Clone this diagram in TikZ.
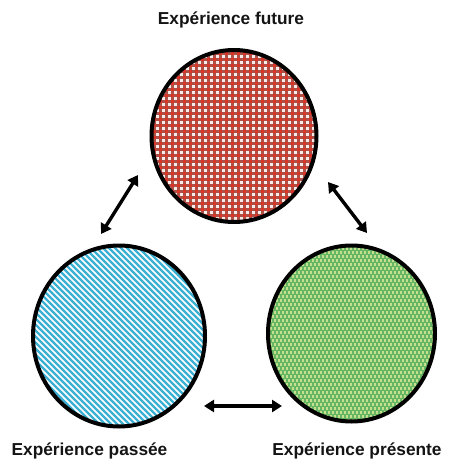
\documentclass[tikz,border=0pt]{standalone}
\usepackage{fontspec}
\setmainfont{Liberation Sans}
\usetikzlibrary{arrows.meta,shapes.geometric}
\definecolor{redbase}{RGB}{170,82,72}
\definecolor{reddot}{RGB}{222,52,40}
\definecolor{redwhite}{RGB}{250,235,232}
\definecolor{cyanc}{RGB}{60,176,210}
\definecolor{greenbase}{RGB}{100,182,100}
\definecolor{greendot}{RGB}{196,224,140}
\definecolor{txt}{RGB}{20,20,20}
\begin{document}
\begin{tikzpicture}[x=1pt,y=-1pt]
\useasboundingbox (0,0) rectangle (463,464);
\tikzset{
  circ/.style={ellipse, inner sep=0pt, postaction={draw=black, line width=4pt}},
  futur/.style={circ, minimum width=165pt, minimum height=172pt, fill=redbase,
    path picture={
      \foreach \i in {-96,-90,...,96}
        \foreach \j in {-96,-90,...,96} {
          \fill[reddot] ([shift={(\i pt+3pt,\j pt+3pt)}]path picture bounding box.center) rectangle ++(3pt,3pt);
          \fill[redwhite] ([shift={(\i pt,\j pt)}]path picture bounding box.center) rectangle ++(2.6pt,2.6pt);
        }
    }},
  passe/.style={circ, minimum width=172pt, minimum height=181pt, fill=white,
    path picture={
      \foreach \i in {-220,-214,...,220}
        \draw[cyanc, line width=2.4pt] ([shift={(\i pt,100pt)}]path picture bounding box.center) -- ++(200pt,-200pt);
    }},
  present/.style={circ, minimum width=167pt, minimum height=176pt, fill=greenbase,
    path picture={
      \foreach \i in {-96,-92,...,96}
        \foreach \j in {-96,-92,...,96} {
          \fill[greendot] ([shift={(\i pt+\j pt*0.5,\j pt)}]path picture bounding box.center) rectangle ++(2.2pt,2.2pt);
        }
    }},
  arr/.style={{Triangle[length=10pt,width=12pt]}-{Triangle[length=10pt,width=12pt]}, line width=3.4pt, black},
  lbl/.style={font=\bfseries\fontsize{17.3}{20}\selectfont, text=txt, inner sep=0pt}
}
\node[futur] (F) at (234,136) {};
\node[passe] (P) at (119,336) {};
\node[present] (R) at (351.5,333.5) {};

\node[lbl] (tF) at (231,20) {Expérience future};
\node[lbl] (tP) at (89.5,451) {Expérience passée};
\node[lbl] (tR) at (357,451) {Expérience présente};

\coordinate (a1s) at (138,175);
\coordinate (a1e) at (101,234);
\coordinate (a2s) at (328,182);
\coordinate (a2e) at (367,233);
\coordinate (a3s) at (204,406);
\coordinate (a3e) at (282,406);
\draw[arr] (a1s) -- (a1e);
\draw[arr] (a2s) -- (a2e);
\draw[arr] (a3s) -- (a3e);
\end{tikzpicture}
\end{document}
